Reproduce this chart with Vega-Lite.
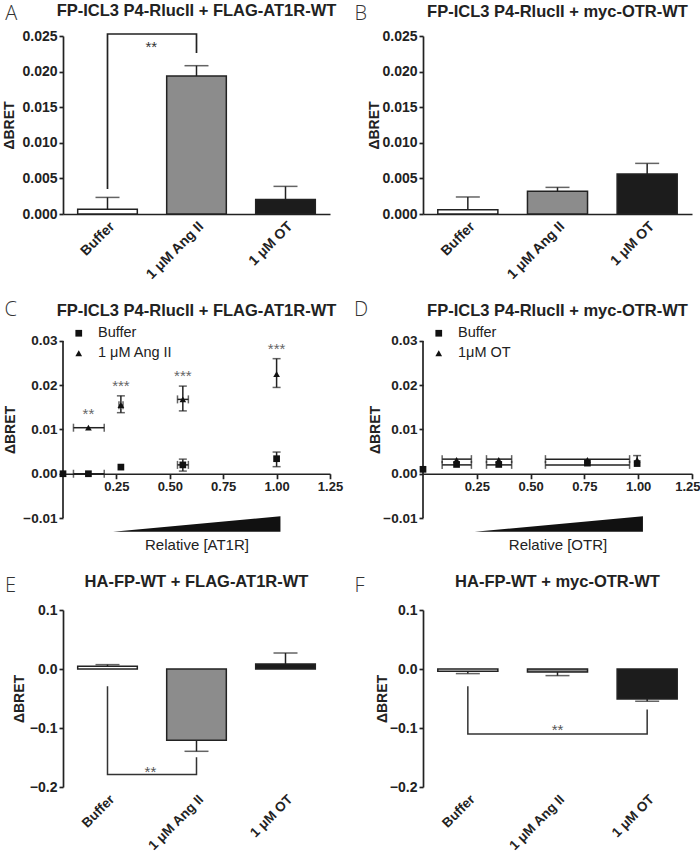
{
  "$schema": "https://vega.github.io/schema/vega-lite/v6.json",
  "background": "white",
  "padding": {"left": 2, "top": 2, "right": 0, "bottom": 1},
  "columns": 2,
  "bounds": "flush",
  "spacing": {"row": 92, "column": 93},
  "resolve": {"scale": {"shape": "independent", "fill": "independent"}, "legend": {"shape": "independent"}},
  "concat": [
    {
      "width": 267, "height": 178,
      "title": {"text": "FP-ICL3 P4-RlucII + FLAG-AT1R-WT", "offset": 0, "dy": 16},
      "encoding": {
        "y": {"field": "v", "type": "quantitative", "scale": {"domain": [0, 0.025], "nice": false, "zero": false},
              "axis": {"title": "ΔBRET", "values": [0, 0.005, 0.01, 0.015, 0.02, 0.025], "format": ".3f", "titlePadding": 5}}
      },
      "layer": [
        {"data": {"values": [{"cat": "Buffer", "v": 0.00065}, {"cat": "1 μM Ang II", "v": 0.01938}, {"cat": "1 μM OT", "v": 0.00205}]},
         "mark": {"type": "bar", "stroke": "#222", "strokeWidth": 1.5},
         "encoding": {
           "x": {"field": "cat", "type": "nominal", "scale": {"domain": ["Buffer", "1 μM Ang II", "1 μM OT"], "paddingInner": 0.33, "paddingOuter": 0.165},
                 "axis": {"title": "A", "labelAngle": -45, "ticks": false, "labelPadding": 5, "labelFontSize": 14, "titleFont": "Open Sans", "titleFontWeight": 300, "titleFontSize": 20, "titleAngle": 0, "titleAlign": "left", "titleBaseline": "alphabetic", "titleX": -58.3, "titleY": -195, "titleColor": "#333"}},
           "fill": {"field": "cat", "type": "nominal", "scale": {"domain": ["Buffer", "1 μM Ang II", "1 μM OT"], "range": ["#ffffff", "#8c8c8c", "#1c1c1c"]}, "legend": null}
         }},
        {"data": {"values": [{"cat": "Buffer", "v": 0.00065, "v2": 0.00233}, {"cat": "1 μM Ang II", "v": 0.01938, "v2": 0.02083}, {"cat": "1 μM OT", "v": 0.00205, "v2": 0.00388}]},
         "mark": {"type": "rule", "color": "#222", "strokeWidth": 1.5},
         "encoding": {"x": {"field": "cat", "type": "nominal"}, "y2": {"field": "v2"}}},
        {"data": {"values": [{"cat": "Buffer", "v2": 0.00233}, {"cat": "1 μM Ang II", "v2": 0.02083}, {"cat": "1 μM OT", "v2": 0.00388}]},
         "mark": {"type": "tick", "orient": "horizontal", "size": 24, "thickness": 1.5, "color": "#222"},
         "encoding": {"x": {"field": "cat", "type": "nominal"}, "y": {"field": "v2", "type": "quantitative"}}},
        {"data": {"values": [{"cat": "Buffer", "v": 0.00351, "o": 1}, {"cat": "Buffer", "v": 0.02528, "o": 2}, {"cat": "1 μM Ang II", "v": 0.02528, "o": 3}, {"cat": "1 μM Ang II", "v": 0.02261, "o": 4}]},
         "mark": {"type": "line", "color": "#222", "strokeWidth": 1.7},
         "encoding": {"x": {"field": "cat", "type": "nominal"}, "order": {"field": "o", "type": "quantitative"}}},
        {"data": {"values": [{"cat": "Buffer", "v": 0.02274, "t": "**"}]},
         "mark": {"type": "text", "fontSize": 15, "color": "#333", "align": "center", "baseline": "alphabetic"},
         "encoding": {"x": {"field": "cat", "type": "nominal", "bandPosition": 1.235}, "text": {"field": "t"}}}
      ]
    },
    {
      "width": 269, "height": 178,
      "title": {"text": "FP-ICL3 P4-RlucII + myc-OTR-WT", "offset": 0, "dy": 17},
      "encoding": {
        "y": {"field": "v", "type": "quantitative", "scale": {"domain": [0, 0.025], "nice": false, "zero": false},
              "axis": {"title": "ΔBRET", "values": [0, 0.005, 0.01, 0.015, 0.02, 0.025], "format": ".3f", "titlePadding": 0}}
      },
      "layer": [
        {"data": {"values": [{"cat": "Buffer", "v": 0.0006}, {"cat": "1 μM Ang II", "v": 0.00318}, {"cat": "1 μM OT", "v": 0.00562}]},
         "mark": {"type": "bar", "stroke": "#222", "strokeWidth": 1.5},
         "encoding": {
           "x": {"field": "cat", "type": "nominal", "scale": {"domain": ["Buffer", "1 μM Ang II", "1 μM OT"], "paddingInner": 0.33, "paddingOuter": 0.165},
                 "axis": {"title": "B", "labelAngle": -45, "ticks": false, "labelPadding": 5, "labelFontSize": 14, "titleFont": "Open Sans", "titleFontWeight": 300, "titleFontSize": 20, "titleAngle": 0, "titleAlign": "left", "titleBaseline": "alphabetic", "titleX": -69.1, "titleY": -195, "titleColor": "#333"}},
           "fill": {"field": "cat", "type": "nominal", "scale": {"domain": ["Buffer", "1 μM Ang II", "1 μM OT"], "range": ["#ffffff", "#8c8c8c", "#1c1c1c"]}, "legend": null}
         }},
        {"data": {"values": [{"cat": "Buffer", "v": 0.0006, "v2": 0.00239}, {"cat": "1 μM Ang II", "v": 0.00318, "v2": 0.00374}, {"cat": "1 μM OT", "v": 0.00562, "v2": 0.00711}]},
         "mark": {"type": "rule", "color": "#222", "strokeWidth": 1.5},
         "encoding": {"x": {"field": "cat", "type": "nominal"}, "y2": {"field": "v2"}}},
        {"data": {"values": [{"cat": "Buffer", "v2": 0.00239}, {"cat": "1 μM Ang II", "v2": 0.00374}, {"cat": "1 μM OT", "v2": 0.00711}]},
         "mark": {"type": "tick", "orient": "horizontal", "size": 24, "thickness": 1.5, "color": "#222"},
         "encoding": {"x": {"field": "cat", "type": "nominal"}, "y": {"field": "v2", "type": "quantitative"}}}
      ]
    },
    {
      "width": 267, "height": 212,
      "title": {"text": "FP-ICL3 P4-RlucII + FLAG-AT1R-WT", "offset": 0, "dy": 20},
      "encoding": {
        "x": {"field": "x", "type": "quantitative", "scale": {"domain": [0, 1.25], "nice": false, "zero": false},
              "axis": {"title": "Relative [AT1R]", "values": [0.25, 0.5, 0.75, 1, 1.25], "format": ".2f", "offset": -44.25, "tickSize": 5, "labelFontSize": 13, "labelFlush": false, "labelOverlap": false, "titleFontWeight": "normal", "titleFontSize": 15, "titleBaseline": "alphabetic", "titleY": 75.3}},
        "y": {"field": "y", "type": "quantitative", "scale": {"domain": [-0.01, 0.0379], "nice": false, "zero": false},
              "axis": {"title": "ΔBRET", "values": [-0.01, 0, 0.01, 0.02, 0.03], "format": ".2f", "domain": false, "labelFontSize": 13.5, "titleY": 123.5, "titlePadding": 5}}
      },
      "layer": [
        {"data": {"values": [{"x": 0, "y": -0.01, "y2": 0.03}]}, "mark": {"type": "rule", "color": "#222", "strokeWidth": 1.7},
         "encoding": {"y2": {"field": "y2"}}},
        {"data": {"values": [{"x": 0.234, "y": -0.0131, "y2": -0.0131}, {"x": 1.018, "y": -0.0096, "y2": -0.0131}]},
         "mark": {"type": "area", "color": "#111"}, "encoding": {"y2": {"field": "y2"}}},
        {"data": {"values": [{"x": 0.271, "y": 0.0138, "y2": 0.0176}, {"x": 0.561, "y": 0.0142, "y2": 0.0198}, {"x": 1.0, "y": 0.0195, "y2": 0.026}, {"x": 0.561, "y": 0.0006, "y2": 0.0033}, {"x": 1.0, "y": 0.0016, "y2": 0.0049}]},
         "mark": {"type": "rule", "color": "#222", "strokeWidth": 1.5}, "encoding": {"y2": {"field": "y2"}}},
        {"data": {"values": [{"x": 0.271, "y": 0.0138}, {"x": 0.561, "y": 0.0142}, {"x": 1.0, "y": 0.0195}, {"x": 0.561, "y": 0.0006}, {"x": 1.0, "y": 0.0016}, {"x": 0.271, "y": 0.0176}, {"x": 0.561, "y": 0.0198}, {"x": 1.0, "y": 0.026}, {"x": 0.561, "y": 0.0033}, {"x": 1.0, "y": 0.0049}]},
         "mark": {"type": "tick", "orient": "horizontal", "size": 8, "thickness": 1.5, "color": "#222"}},
        {"data": {"values": [{"x": 0.049, "x2": 0.193, "y": 0.0104}, {"x": 0.049, "x2": 0.193, "y": 0}, {"x": 0.262, "x2": 0.281, "y": 0.0155}, {"x": 0.536, "x2": 0.587, "y": 0.0168}, {"x": 0.536, "x2": 0.587, "y": 0.002}]},
         "mark": {"type": "rule", "color": "#222", "strokeWidth": 1.5}, "encoding": {"x2": {"field": "x2"}}},
        {"data": {"values": [{"x": 0.049, "y": 0.0104}, {"x": 0.049, "y": 0}, {"x": 0.262, "y": 0.0155}, {"x": 0.536, "y": 0.0168}, {"x": 0.536, "y": 0.002}, {"x": 0.193, "y": 0.0104}, {"x": 0.193, "y": 0}, {"x": 0.281, "y": 0.0155}, {"x": 0.587, "y": 0.0168}, {"x": 0.587, "y": 0.002}]},
         "mark": {"type": "tick", "orient": "vertical", "size": 8, "thickness": 1.5, "color": "#222"}},
        {"data": {"values": [
           {"s": "Buffer", "x": 0, "y": 0}, {"s": "Buffer", "x": 0.119, "y": 0}, {"s": "Buffer", "x": 0.271, "y": 0.0015}, {"s": "Buffer", "x": 0.561, "y": 0.002}, {"s": "Buffer", "x": 1.0, "y": 0.0034},
           {"s": "1 μM Ang II", "x": 0, "y": 0}, {"s": "1 μM Ang II", "x": 0.119, "y": 0.0104}, {"s": "1 μM Ang II", "x": 0.271, "y": 0.0155}, {"s": "1 μM Ang II", "x": 0.561, "y": 0.0168}, {"s": "1 μM Ang II", "x": 1.0, "y": 0.0225}]},
         "mark": {"type": "point", "filled": true, "size": 45, "opacity": 1, "color": "#111"},
         "encoding": {"shape": {"field": "s", "type": "nominal", "scale": {"domain": ["Buffer", "1 μM Ang II"], "range": ["square", "triangle-up"]},
                                "legend": {"title": null, "orient": "none", "legendX": 8.5, "legendY": 20}}}},
        {"data": {"values": [{"x": 0.119, "y": 0.01237, "t": "**"}, {"x": 0.271, "y": 0.01879, "t": "***"}, {"x": 0.561, "y": 0.02089, "t": "***"}, {"x": 1.0, "y": 0.02715, "t": "***"}]},
         "mark": {"type": "text", "fontSize": 15, "color": "#666", "align": "center", "baseline": "alphabetic"}, "encoding": {"text": {"field": "t"}}},
        {"data": {"values": [{"x": -0.274, "y": 0.03565, "t": "C"}]},
         "mark": {"type": "text", "font": "Open Sans", "fontWeight": 300, "fontSize": 20, "align": "left", "baseline": "alphabetic", "color": "#333"},
         "encoding": {"text": {"field": "t"}}}
      ]
    },
    {
      "width": 269, "height": 212,
      "title": {"text": "FP-ICL3 P4-RlucII + myc-OTR-WT", "offset": 0, "dy": 20},
      "encoding": {
        "x": {"field": "x", "type": "quantitative", "scale": {"domain": [0, 1.25], "nice": false, "zero": false},
              "axis": {"title": "Relative [OTR]", "values": [0.25, 0.5, 0.75, 1, 1.25], "format": ".2f", "offset": -44.25, "tickSize": 5, "labelFontSize": 13, "labelFlush": true, "labelFlushOffset": 8, "labelOverlap": false, "titleFontWeight": "normal", "titleFontSize": 15, "titleBaseline": "alphabetic", "titleY": 75.3}},
        "y": {"field": "y", "type": "quantitative", "scale": {"domain": [-0.01, 0.0379], "nice": false, "zero": false},
              "axis": {"title": "ΔBRET", "values": [-0.01, 0, 0.01, 0.02, 0.03], "format": ".2f", "domain": false, "labelFontSize": 13.5, "titleY": 123.5, "titlePadding": 0}}
      },
      "layer": [
        {"data": {"values": [{"x": 0, "y": -0.01, "y2": 0.03}]}, "mark": {"type": "rule", "color": "#222", "strokeWidth": 1.7},
         "encoding": {"y2": {"field": "y2"}}},
        {"data": {"values": [{"x": 0.24, "y": -0.0131, "y2": -0.0131}, {"x": 1.022, "y": -0.0096, "y2": -0.0131}]},
         "mark": {"type": "area", "color": "#111"}, "encoding": {"y2": {"field": "y2"}}},
        {"data": {"values": [{"x": 0.995, "y": 0.0025, "y2": 0.0041}]},
         "mark": {"type": "rule", "color": "#222", "strokeWidth": 1.5}, "encoding": {"y2": {"field": "y2"}}},
        {"data": {"values": [{"x": 0.995, "y": 0.0041}]},
         "mark": {"type": "tick", "orient": "horizontal", "size": 8, "thickness": 1.5, "color": "#222"}},
        {"data": {"values": [{"x": 0.089, "x2": 0.225, "y": 0.0033}, {"x": 0.089, "x2": 0.225, "y": 0.002}, {"x": 0.295, "x2": 0.412, "y": 0.0033}, {"x": 0.295, "x2": 0.412, "y": 0.002}, {"x": 0.569, "x2": 0.96, "y": 0.0033}, {"x": 0.569, "x2": 0.96, "y": 0.002}]},
         "mark": {"type": "rule", "color": "#222", "strokeWidth": 1.5}, "encoding": {"x2": {"field": "x2"}}},
        {"data": {"values": [{"x": 0.089, "y": 0.0033}, {"x": 0.089, "y": 0.002}, {"x": 0.295, "y": 0.0033}, {"x": 0.295, "y": 0.002}, {"x": 0.569, "y": 0.0033}, {"x": 0.569, "y": 0.002}, {"x": 0.225, "y": 0.0033}, {"x": 0.225, "y": 0.002}, {"x": 0.412, "y": 0.0033}, {"x": 0.412, "y": 0.002}, {"x": 0.96, "y": 0.0033}, {"x": 0.96, "y": 0.002}]},
         "mark": {"type": "tick", "orient": "vertical", "size": 8, "thickness": 1.5, "color": "#222"}},
        {"data": {"values": [
           {"s": "Buffer", "x": 0, "y": 0.001}, {"s": "Buffer", "x": 0.156, "y": 0.0021}, {"s": "Buffer", "x": 0.352, "y": 0.0021}, {"s": "Buffer", "x": 0.764, "y": 0.0024}, {"s": "Buffer", "x": 0.995, "y": 0.0023},
           {"s": "1μM OT", "x": 0.156, "y": 0.0031}, {"s": "1μM OT", "x": 0.352, "y": 0.0031}, {"s": "1μM OT", "x": 0.764, "y": 0.0031}, {"s": "1μM OT", "x": 0.995, "y": 0.0031}]},
         "mark": {"type": "point", "filled": true, "size": 45, "opacity": 1, "color": "#111"},
         "encoding": {"shape": {"field": "s", "type": "nominal", "scale": {"domain": ["Buffer", "1μM OT"], "range": ["square", "triangle-up"]},
                                "legend": {"title": null, "orient": "none", "legendX": 8.5, "legendY": 20}}}},
        {"data": {"values": [{"x": -0.321, "y": 0.03565, "t": "D"}]},
         "mark": {"type": "text", "font": "Open Sans", "fontWeight": 300, "fontSize": 20, "align": "left", "baseline": "alphabetic", "color": "#333"},
         "encoding": {"text": {"field": "t"}}}
      ]
    },
    {
      "width": 267, "height": 177,
      "title": {"text": "HA-FP-WT + FLAG-AT1R-WT", "offset": 0, "dy": 15},
      "encoding": {
        "y": {"field": "v", "type": "quantitative", "scale": {"domain": [-0.2, 0.1], "nice": false, "zero": false},
              "axis": {"title": "ΔBRET", "values": [-0.2, -0.1, 0, 0.1], "format": ".1f", "titlePadding": 3}}
      },
      "layer": [
        {"data": {"values": [{"cat": "Buffer", "v": 0.0046}, {"cat": "1 μM Ang II", "v": -0.1208}, {"cat": "1 μM OT", "v": 0.0085}]},
         "mark": {"type": "bar", "stroke": "#222", "strokeWidth": 1.5},
         "encoding": {
           "x": {"field": "cat", "type": "nominal", "scale": {"domain": ["Buffer", "1 μM Ang II", "1 μM OT"], "paddingInner": 0.33, "paddingOuter": 0.165},
                 "axis": {"title": "E", "labelAngle": -45, "ticks": false, "domain": false, "labelPadding": 5, "labelFontSize": 13.5, "titleFont": "Open Sans", "titleFontWeight": 300, "titleFontSize": 20, "titleAngle": 0, "titleAlign": "left", "titleBaseline": "alphabetic", "titleX": -58.5, "titleY": -196, "titleColor": "#333"}},
           "fill": {"field": "cat", "type": "nominal", "scale": {"domain": ["Buffer", "1 μM Ang II", "1 μM OT"], "range": ["#ffffff", "#8c8c8c", "#1c1c1c"]}, "legend": null}
         }},
        {"data": {"values": [{}]}, "mark": {"type": "rule", "color": "#222", "strokeWidth": 1.7}, "encoding": {"y": {"datum": 0}}},
        {"data": {"values": [{"cat": "Buffer", "v": 0.0046, "v2": 0.0074}, {"cat": "1 μM Ang II", "v": -0.1208, "v2": -0.1395}, {"cat": "1 μM OT", "v": 0.0085, "v2": 0.0271}]},
         "mark": {"type": "rule", "color": "#222", "strokeWidth": 1.5},
         "encoding": {"x": {"field": "cat", "type": "nominal"}, "y2": {"field": "v2"}}},
        {"data": {"values": [{"cat": "Buffer", "v2": 0.0074}, {"cat": "1 μM Ang II", "v2": -0.1395}, {"cat": "1 μM OT", "v2": 0.0271}]},
         "mark": {"type": "tick", "orient": "horizontal", "size": 24, "thickness": 1.5, "color": "#222"},
         "encoding": {"x": {"field": "cat", "type": "nominal"}, "y": {"field": "v2", "type": "quantitative"}}},
        {"data": {"values": [{"cat": "Buffer", "v": -0.0293, "o": 1}, {"cat": "Buffer", "v": -0.179, "o": 2}, {"cat": "1 μM Ang II", "v": -0.179, "o": 3}, {"cat": "1 μM Ang II", "v": -0.1497, "o": 4}]},
         "mark": {"type": "line", "color": "#333", "strokeWidth": 1.5},
         "encoding": {"x": {"field": "cat", "type": "nominal"}, "order": {"field": "o", "type": "quantitative"}}},
        {"data": {"values": [{"cat": "Buffer", "v": -0.183, "t": "**"}]},
         "mark": {"type": "text", "fontSize": 15, "color": "#555", "align": "center", "baseline": "alphabetic"},
         "encoding": {"x": {"field": "cat", "type": "nominal", "bandPosition": 1.22}, "text": {"field": "t"}}}
      ]
    },
    {
      "width": 269, "height": 177,
      "title": {"text": "HA-FP-WT + myc-OTR-WT", "offset": 0, "dy": 15},
      "encoding": {
        "y": {"field": "v", "type": "quantitative", "scale": {"domain": [-0.2, 0.1], "nice": false, "zero": false},
              "axis": {"title": "ΔBRET", "values": [-0.2, -0.1, 0, 0.1], "format": ".1f", "titlePadding": 0}}
      },
      "layer": [
        {"data": {"values": [{"cat": "Buffer", "v": -0.0039}, {"cat": "1 μM Ang II", "v": -0.0051}, {"cat": "1 μM OT", "v": -0.0508}]},
         "mark": {"type": "bar", "stroke": "#222", "strokeWidth": 1.5},
         "encoding": {
           "x": {"field": "cat", "type": "nominal", "scale": {"domain": ["Buffer", "1 μM Ang II", "1 μM OT"], "paddingInner": 0.33, "paddingOuter": 0.165},
                 "axis": {"title": "F", "labelAngle": -45, "ticks": false, "domain": false, "labelPadding": 5, "labelFontSize": 13.5, "titleFont": "Open Sans", "titleFontWeight": 300, "titleFontSize": 20, "titleAngle": 0, "titleAlign": "left", "titleBaseline": "alphabetic", "titleX": -69.1, "titleY": -196, "titleColor": "#333"}},
           "fill": {"field": "cat", "type": "nominal", "scale": {"domain": ["Buffer", "1 μM Ang II", "1 μM OT"], "range": ["#ffffff", "#8c8c8c", "#1c1c1c"]}, "legend": null}
         }},
        {"data": {"values": [{}]}, "mark": {"type": "rule", "color": "#222", "strokeWidth": 1.7}, "encoding": {"y": {"datum": 0}}},
        {"data": {"values": [{"cat": "Buffer", "v": -0.0039, "v2": -0.0078}, {"cat": "1 μM Ang II", "v": -0.0051, "v2": -0.0112}, {"cat": "1 μM OT", "v": -0.0508, "v2": -0.0547}]},
         "mark": {"type": "rule", "color": "#222", "strokeWidth": 1.5},
         "encoding": {"x": {"field": "cat", "type": "nominal"}, "y2": {"field": "v2"}}},
        {"data": {"values": [{"cat": "Buffer", "v2": -0.0078}, {"cat": "1 μM Ang II", "v2": -0.0112}, {"cat": "1 μM OT", "v2": -0.0547}]},
         "mark": {"type": "tick", "orient": "horizontal", "size": 24, "thickness": 1.5, "color": "#222"},
         "encoding": {"x": {"field": "cat", "type": "nominal"}, "y": {"field": "v2", "type": "quantitative"}}},
        {"data": {"values": [{"cat": "Buffer", "v": -0.0293, "o": 1}, {"cat": "Buffer", "v": -0.11, "o": 2}, {"cat": "1 μM OT", "v": -0.11, "o": 3}, {"cat": "1 μM OT", "v": -0.0688, "o": 4}]},
         "mark": {"type": "line", "color": "#333", "strokeWidth": 1.5},
         "encoding": {"x": {"field": "cat", "type": "nominal"}, "order": {"field": "o", "type": "quantitative"}}},
        {"data": {"values": [{"cat": "1 μM Ang II", "v": -0.112, "t": "**"}]},
         "mark": {"type": "text", "fontSize": 15, "color": "#555", "align": "center", "baseline": "alphabetic"},
         "encoding": {"x": {"field": "cat", "type": "nominal"}, "text": {"field": "t"}}}
      ]
    }
  ],
  "config": {
    "view": {"stroke": null},
    "font": "Liberation Sans",
    "title": {"font": "Liberation Sans", "fontSize": 16.5, "fontWeight": "bold", "color": "#222", "frame": "group", "anchor": "middle", "baseline": "alphabetic"},
    "axis": {"grid": false, "domainColor": "#222", "domainWidth": 1.7, "tickColor": "#222", "tickWidth": 1.7, "tickSize": 4, "labelColor": "#222", "labelFont": "Liberation Sans", "labelFontWeight": "bold", "labelFontSize": 14, "labelPadding": 2, "titleColor": "#222", "titleFont": "Liberation Sans", "titleFontWeight": "bold", "titleFontSize": 14, "titlePadding": 0},
    "legend": {"labelFont": "Liberation Sans", "labelFontSize": 14.5, "labelColor": "#222", "symbolSize": 45, "rowPadding": 5, "labelOffset": 12, "padding": 0, "symbolStrokeWidth": 0}
  }
}
